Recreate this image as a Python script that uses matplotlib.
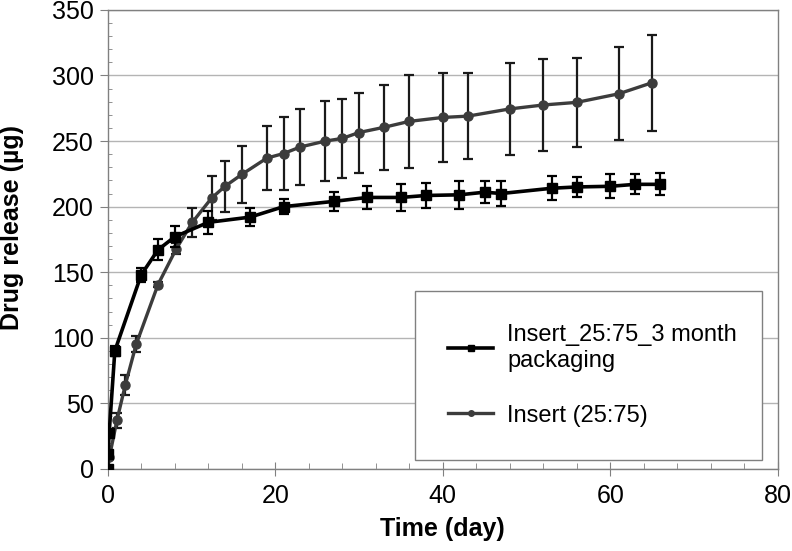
import matplotlib.pyplot as plt
from matplotlib.lines import Line2D
from matplotlib.ticker import MultipleLocator

plt.rcParams['font.family'] = ['Liberation Sans', 'DejaVu Sans']

# Insert_25:75_3 month packaging (squares)
pack_days = [0, 0.04, 0.17, 0.85, 4, 6, 8, 12, 17, 21, 27, 31, 35, 38, 42, 45, 47, 53, 56, 60, 63, 66]
pack_release = [0, 11, 27, 90, 148, 167, 177, 188, 192, 200, 204, 207, 207, 208.5, 209, 211, 210, 214, 215, 215.5, 217, 217]
pack_err = [0, 1.5, 2, 4, 5.5, 8, 8, 8.5, 7, 6, 7, 9, 10, 9.5, 10.5, 8.5, 9.5, 9, 7.5, 9, 7.5, 8.5]

# Insert (25:75) (circles)
ins_days = [0, 0.2, 1.1, 2.1, 3.4, 6, 8.2, 10.1, 12.4, 14, 16, 19, 21, 23, 26, 28, 30, 33, 36, 40, 43, 48, 52, 56, 61, 65]
ins_release = [0, 9, 37, 64, 95, 140.5, 168, 188, 206.5, 215.5, 224.5, 237, 240.5, 245.5, 250, 252, 256.5, 260.5, 265, 268, 269, 274.5, 277.5, 279.5, 286, 294.5]
ins_err = [0, 1.5, 6, 7.5, 6, 2, 4.5, 11, 16.5, 19.5, 22, 24.5, 27.5, 29, 30.5, 30, 30.5, 32.5, 35.5, 34, 33, 35, 35, 34, 35.5, 36.5]

pack_label = 'Insert_25:75_3 month\npackaging'
ins_label = 'Insert (25:75)'

fig = plt.figure(figsize=(7.92, 5.51), dpi=100)
ax = fig.add_axes([0.136, 0.149, 0.846, 0.833])

ax.errorbar(ins_days, ins_release, yerr=ins_err, color='#3c3c3c', lw=2.4, marker='o', ms=6.5,
            ecolor='#1a1a1a', elinewidth=1.6, capsize=3.5, capthick=1.6, zorder=3)
ax.errorbar(pack_days, pack_release, yerr=pack_err, color='black', lw=2.6, marker='s', ms=6.5,
            ecolor='black', elinewidth=1.6, capsize=3.5, capthick=1.6, zorder=4)

ax.set_xlim(0, 80)
ax.set_ylim(0, 350)
ax.xaxis.set_major_locator(MultipleLocator(20))
ax.xaxis.set_minor_locator(MultipleLocator(4))
ax.yaxis.set_major_locator(MultipleLocator(50))
ax.yaxis.set_minor_locator(MultipleLocator(10))
ax.grid(axis='y', which='major', color='#b4b4b4', lw=1)
ax.set_axisbelow(True)

for s in ax.spines.values():
    s.set_color('#808080')
    s.set_linewidth(1)
ax.tick_params(axis='y', which='major', direction='out', length=6, pad=4, labelsize=18, color='#808080')
ax.tick_params(axis='y', which='minor', direction='in', length=3, color='#808080')
ax.tick_params(axis='x', which='major', direction='inout', length=10, pad=6, labelsize=18, color='#808080')
ax.tick_params(axis='x', which='minor', direction='in', length=4, color='#808080')

ax.set_xlabel('Time (day)', fontsize=18, fontweight='bold', labelpad=6)
ax.set_ylabel('Drug release (µg)', fontsize=18, fontweight='bold')
ax.yaxis.set_label_coords(-0.125, 0.525)

handles = [Line2D([], [], color='black', lw=2.6, marker='s', ms=4),
           Line2D([], [], color='#3c3c3c', lw=2.4, marker='o', ms=4)]
leg = ax.legend(handles, [pack_label, ins_label], loc='lower left',
                bbox_to_anchor=(0.459, 0.02, 0.518, 0.353), mode='expand',
                fontsize=17, frameon=True, fancybox=False, edgecolor='#808080',
                borderpad=1.4, labelspacing=1.4, handlelength=1.9, handletextpad=0.6,
                borderaxespad=0, framealpha=1)
leg.get_frame().set_linewidth(1)

fig.savefig('out.png', dpi=100)
